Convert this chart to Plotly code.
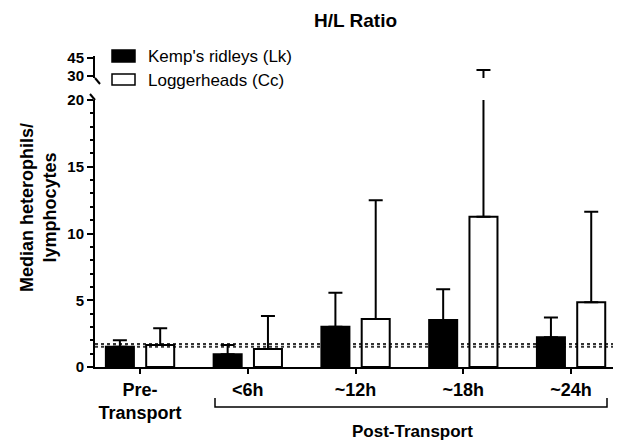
import plotly.graph_objects as go

# ---- data ----
categories = ["Pre-<br>Transport", "&lt;6h", "~12h", "~18h", "~24h"]
kemp_name = "Kemp's ridleys (Lk)"
logger_name = "Loggerheads (Cc)"
kemp_median = [1.52, 0.95, 3.02, 3.52, 2.22]
kemp_upper = [2.0, 1.65, 5.57, 5.82, 3.7]
logger_median = [1.65, 1.35, 3.6, 11.26, 4.85]
logger_upper = [2.9, 3.82, 12.5, 35.0, 11.63]
reference_lines = [1.52, 1.72]
lower_ticks = [0, 5, 10, 15, 20]
upper_ticks = [30, 45]
title_text = "H/L Ratio"
ytitle_text = "Median heterophils/<br>lymphocytes"
group_text = "Post-Transport"

kemp_err = [u - m for u, m in zip(kemp_upper, kemp_median)]
logger_err = [u - m for u, m in zip(logger_upper, logger_median)]

FONT = "Liberation Sans, Arial, sans-serif"
W, H = 623, 442
L, R, T, B = 95, 10, 56, 75
PW, PH = W - L - R, H - T - B


def px(x):
    return (x - L) / PW


def py(y):
    return (H - B - y) / PH


BW = 0.26
OFF = 0.187

fig = go.Figure()


def err(arr):
    return dict(type="data", symmetric=False, array=arr, arrayminus=[0] * len(arr),
                color="black", thickness=2, width=7)


# lower panel bars
fig.add_trace(go.Bar(x=categories, y=kemp_median, name=kemp_name,
                     width=BW, offset=-OFF - BW / 2,
                     marker=dict(color="black", line=dict(color="black", width=2)),
                     error_y=err(kemp_err), xaxis="x", yaxis="y", showlegend=False))
fig.add_trace(go.Bar(x=categories, y=logger_median, name=logger_name,
                     width=BW, offset=OFF - BW / 2,
                     marker=dict(color="rgba(255,255,255,0)", line=dict(color="black", width=2)),
                     error_y=err(logger_err), xaxis="x", yaxis="y", showlegend=False))
# upper panel (only error-bar continuations beyond the break are visible)
fig.add_trace(go.Bar(x=categories, y=kemp_median, width=BW, offset=-OFF - BW / 2,
                     marker=dict(color="rgba(0,0,0,0)", line=dict(width=0)),
                     error_y=err(kemp_err), xaxis="x", yaxis="y2", showlegend=False,
                     hoverinfo="skip"))
fig.add_trace(go.Bar(x=categories, y=logger_median, width=BW, offset=OFF - BW / 2,
                     marker=dict(color="rgba(0,0,0,0)", line=dict(width=0)),
                     error_y=err(logger_err), xaxis="x", yaxis="y2", showlegend=False,
                     hoverinfo="skip"))

shapes = []
for v in reference_lines:
    shapes.append(dict(type="line", xref="paper", yref="y", x0=0, x1=1, y0=v, y1=v,
                       line=dict(color="#333", width=2, dash="dot"), layer="below"))
# axis break marks
shapes.append(dict(type="line", xref="paper", yref="paper", x0=px(95), y0=py(78),
                   x1=px(100), y1=py(84), line=dict(color="black", width=2)))
shapes.append(dict(type="line", xref="paper", yref="paper", x0=px(90), y0=py(94),
                   x1=px(95), y1=py(100), line=dict(color="black", width=2)))
# bracket
shapes.append(dict(type="path", xref="paper", yref="paper",
                   path=f"M {px(215)},{py(398)} L {px(215)},{py(407)} L {px(607)},{py(407)} L {px(607)},{py(398)}",
                   line=dict(color="black", width=1.5)))
# legend boxes
shapes.append(dict(type="rect", xref="paper", yref="paper", x0=px(112), x1=px(135),
                   y0=py(62), y1=py(50), fillcolor="black", line=dict(color="black", width=1.5)))
shapes.append(dict(type="rect", xref="paper", yref="paper", x0=px(112), x1=px(135),
                   y0=py(85), y1=py(74), fillcolor="white", line=dict(color="black", width=1.5)))

annotations = [
    dict(text=f"<b>{title_text}</b>", xref="paper", yref="paper", x=px(355), y=py(20),
         showarrow=False, font=dict(size=19, family=FONT, color="black"),
         xanchor="center", yanchor="middle"),
    dict(text=f"<b>{ytitle_text}</b>", xref="paper", yref="paper", x=px(38), y=py(208),
         showarrow=False, textangle=-90, font=dict(size=18, family=FONT, color="black"),
         xanchor="center", yanchor="middle"),
    dict(text=f"<b>{group_text}</b>", xref="paper", yref="paper", x=px(412), y=py(431),
         showarrow=False, font=dict(size=17, family=FONT, color="black"),
         xanchor="center", yanchor="middle"),
    dict(text=kemp_name, xref="paper", yref="paper", x=px(146), y=py(56),
         showarrow=False, font=dict(size=17, family=FONT, color="black"),
         xanchor="left", yanchor="middle"),
    dict(text=logger_name, xref="paper", yref="paper", x=px(146), y=py(80),
         showarrow=False, font=dict(size=17, family=FONT, color="black"),
         xanchor="left", yanchor="middle"),
]

lower_top = py(100)
upper_bottom = py(78)

fig.update_layout(
    width=W, height=H,
    margin=dict(l=L, r=R, t=T, b=B),
    paper_bgcolor="white", plot_bgcolor="white",
    barmode="overlay",
    showlegend=False,
    hovermode=False,
    font=dict(family=FONT, color="black"),
    shapes=shapes, annotations=annotations,
    xaxis=dict(type="category", range=[-0.418, 4.389], anchor="y",
               showline=True, linecolor="black", linewidth=2,
               ticks="outside", ticklen=5, tickwidth=2, tickcolor="black",
               showgrid=False, zeroline=False,
               tickfont=dict(size=18, family=FONT, weight="bold", color="black")),
    yaxis=dict(domain=[0, lower_top], range=[0, 20], tickvals=lower_ticks,
               showline=True, linecolor="black", linewidth=2,
               ticks="outside", ticklen=6, tickwidth=2, tickcolor="black",
               minor=dict(dtick=1, ticklen=3, tickwidth=1.5, tickcolor="black", ticks="outside"),
               showgrid=False, zeroline=False,
               tickfont=dict(size=15, family=FONT, weight="bold", color="black")),
    yaxis2=dict(domain=[upper_bottom, 1], range=[28.33, 46.67], tickvals=upper_ticks,
                anchor="x",
                showline=True, linecolor="black", linewidth=2,
                ticks="outside", ticklen=6, tickwidth=2, tickcolor="black",
                showgrid=False, zeroline=False,
                tickfont=dict(size=15, family=FONT, weight="bold", color="black")),
)

fig.write_html("out.html", config={"displayModeBar": False},
               post_script="document.body.style.margin='0';")
